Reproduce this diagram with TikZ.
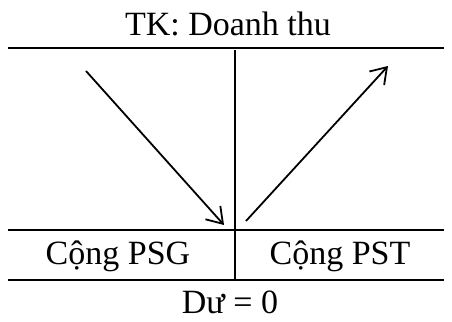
\documentclass[tikz,border=0pt]{standalone}
\usepackage{fontspec}
\setmainfont{Liberation Serif}
\usetikzlibrary{arrows.meta, positioning}

\begin{document}
\begin{tikzpicture}[x=1pt, y=-1pt, l/.style={line width=1.8pt}, a/.style={line width=1.8pt, -{Straight Barb[length=15pt, width=20pt, line width=1.8pt]}}, t/.style={anchor=base, inner sep=0pt, text depth=0pt, font=\fontsize{34}{34}\selectfont}]
	        \useasboundingbox (0,0) rectangle (452,321);
	        % ledger lines
	        \coordinate (tl) at (8,48);   \coordinate (tr) at (444,48);
	        \coordinate (ml) at (8,230);  \coordinate (mr) at (444,230);
	        \coordinate (bl) at (8,280);  \coordinate (br) at (444,280);
	        \coordinate (vt) at (235,50); \coordinate (vb) at (235,280);
	        \draw[l] (tl) -- (tr);
	        \draw[l] (ml) -- (mr);
	        \draw[l] (bl) -- (br);
	        \draw[l] (vt) -- (vb);
	        % texts
	        \node[t] (title) at (228,36) {TK: Doanh thu};
	        \node[t] (psg) at (118,264) {Cộng PSG};
	        \node[t] (pst) at (340,264) {Cộng PST};
	        \node[t] (du) at (230,313) {Dư = 0};
	        % arrows
	        \coordinate (d0) at (86,71);   \coordinate (d1) at (224,225);
	        \coordinate (c0) at (246,221); \coordinate (c1) at (388,66);
	        \draw[a] (d0) -- (d1);
	        \draw[a] (c0) -- (c1);
	      \end{tikzpicture}
\end{document}
